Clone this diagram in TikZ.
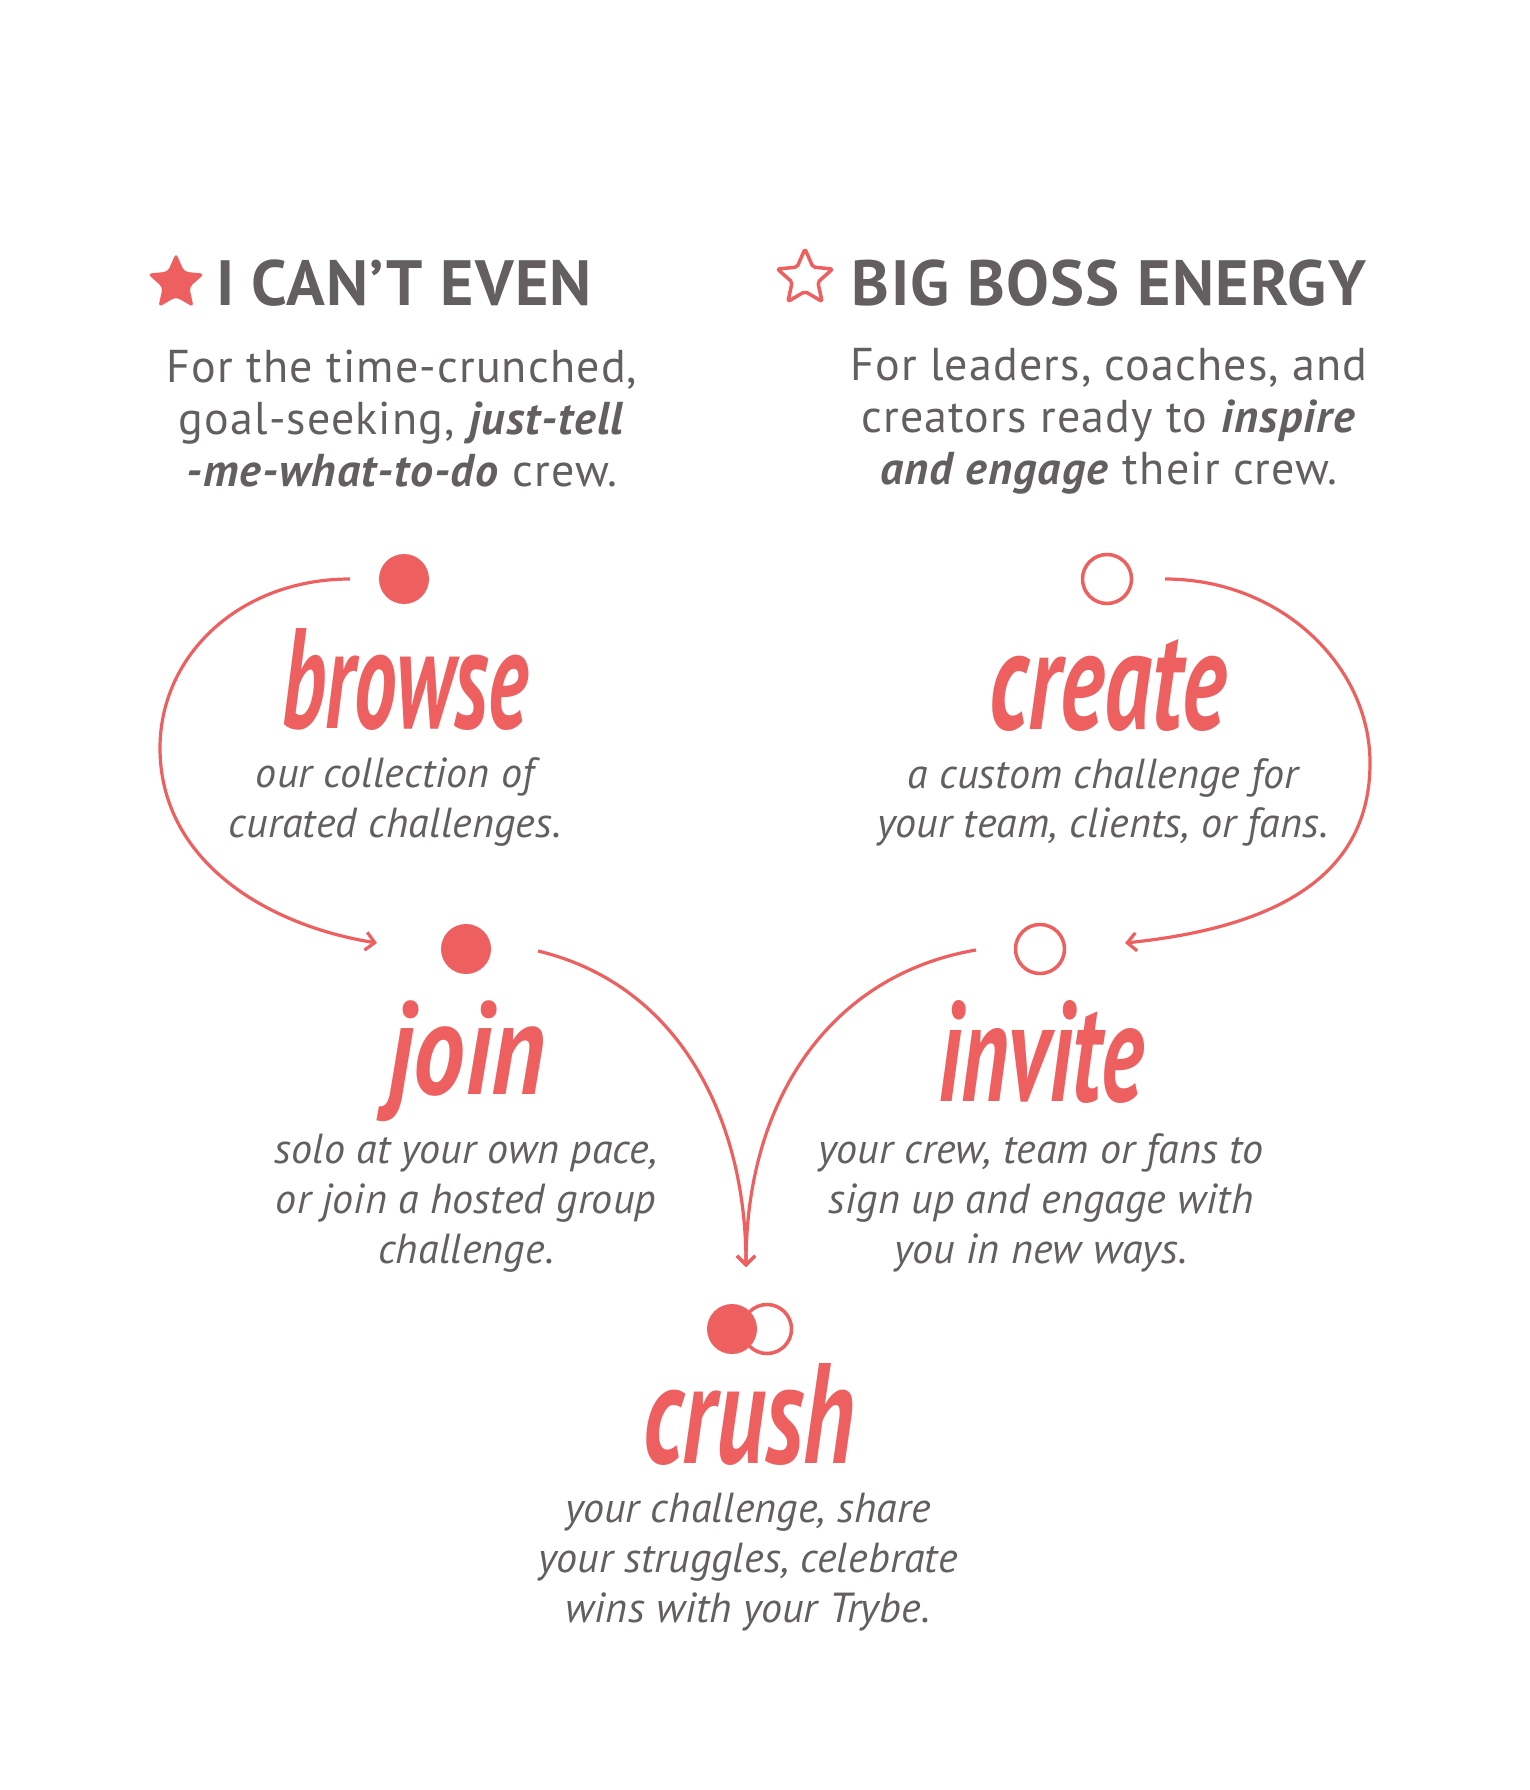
\documentclass[tikz,border=0pt]{standalone}
\usepackage{fontspec}
\setmainfont{PT Sans}
\newfontfamily\headfont{PT Sans}[LetterSpace=2.1]
\newfontfamily\bodyfont{PT Sans}[LetterSpace=2.5]
\newfontfamily\labfont{PT Sans}[LetterSpace=0.5]
\usetikzlibrary{arrows.meta}
\definecolor{coral}{RGB}{238,96,96}
\definecolor{ink}{RGB}{99,94,95}
\newcommand\scriptword[3]{\resizebox*{#1pt}{#2pt}{#3}}
\begin{document}
\begin{tikzpicture}[x=1pt,y=-1pt,
  head/.style={font=\headfont\fontsize{64}{70}\selectfont\bfseries, text=ink, inner sep=0pt, anchor=base},
  body/.style={font=\bodyfont\fontsize{46}{52}\selectfont, text=ink, inner sep=0pt, anchor=base},
  lab/.style={font=\labfont\fontsize{42}{48}\selectfont\itshape, text=ink, inner sep=0pt, anchor=base},
  word/.style={text=coral, inner sep=0pt, anchor=center, font=\fontsize{80}{90}\selectfont\bfseries\itshape},
  dotf/.style={circle, fill=coral, minimum size=50pt, inner sep=0pt},
  doto/.style={circle, draw=coral, line width=3.5pt, fill=white, minimum size=49pt, inner sep=0pt},
  flow/.style={draw=coral, line width=3.2pt, -{Straight Barb[length=9pt,width=18pt]}},
]
\useasboundingbox[fill=white] (0,0) rectangle (1530,1790);

% stars
\fill[coral, rounded corners=4pt, shift={(176,283)}]
  (-90:30) -- (-54:14) -- (-18:30) -- (18:14) -- (54:30) -- (90:14) -- (126:30) -- (162:14) -- (198:30) -- (234:14) -- cycle;
\draw[coral, line width=3.5pt, line join=round, rounded corners=2pt, shift={(805,278)}]
  (-90:29) -- (-54:13.5) -- (-18:29) -- (18:13.5) -- (54:29) -- (90:13.5) -- (126:29) -- (162:13.5) -- (198:29) -- (234:13.5) -- cycle;

% headings
\node[head] (h1) at (404,305) {I CAN’T EVEN};
\node[head] (h2) at (1109,305) {BIG BOSS ENERGY};

% left body
\node[body] (l1) at (402,382) {For the time-crunched,};
\node[body] (l2) at (402,434) {goal-seeking, \textbf{\textit{just-tell}}};
\node[body] (l3) at (402,486) {\textbf{\textit{-me-what-to-do}} crew.};
% right body
\node[body] (r1) at (1109,380) {For leaders, coaches, and};
\node[body] (r2) at (1109,432) {creators ready to \textbf{\textit{inspire}}};
\node[body] (r3) at (1109,484) {\textbf{\textit{and engage}} their crew.};

% dots
\node[dotf] (dbrowse) at (404,579) {};
\node[doto] (dcreate) at (1107,579) {};
\node[dotf] (djoin) at (466,949) {};
\node[doto] (dinvite) at (1040,949) {};
\node[doto] (dcrush2) at (767,1329) {};
\node[dotf] (dcrush1) at (732,1329) {};

% script words
\node[word] (wbrowse) at (405,679) {\scriptword{246}{102}{browse}};
\node[word] (wcreate) at (1108,685) {\scriptword{237}{92}{create}};
\node[word] (wjoin) at (467,1061) {\scriptword{157}{121}{join}};
\node[word] (winvite) at (1041,1052) {\scriptword{206}{103}{invite}};
\node[word] (wcrush) at (749,1414) {\scriptword{212}{102}{crush}};

% labels
\node[lab] (bl1) at (395,787) {our collection of};
\node[lab] (bl2) at (395,837) {curated challenges.};
\node[lab] (cl1) at (1103,788) {a custom challenge for};
\node[lab] (cl2) at (1103,837) {your team, clients, or fans.};
\node[lab] (jl1) at (466,1163) {solo at your own pace,};
\node[lab] (jl2) at (466,1213) {or join a hosted group};
\node[lab] (jl3) at (466,1263) {challenge.};
\node[lab] (il1) at (1041,1163) {your crew, team or fans to};
\node[lab] (il2) at (1041,1213) {sign up and engage with};
\node[lab] (il3) at (1041,1263) {you in new ways.};
\node[lab] (ul1) at (748,1522) {your challenge, share};
\node[lab] (ul2) at (748,1572) {your struggles, celebrate};
\node[lab] (ul3) at (748,1622) {wins with your Trybe.};

% connectors
\coordinate (sbrowse) at (350,579);
\coordinate (ebrowse) at (377,943);
\coordinate (screate) at (1165,579);
\coordinate (ecreate) at (1125,943);
\coordinate (sjoin) at (538,951);
\coordinate (sinvite) at (976,950);
\coordinate (tip) at (746,1267);

\draw[flow] (sbrowse) .. controls (240,579) and (160,655) .. (160,748)
  .. controls (160,860) and (265,925) .. (ebrowse);
\draw[flow] (screate) .. controls (1280,579) and (1370,665) .. (1370,763)
  .. controls (1370,880) and (1270,928) .. (ecreate);
\draw[flow] (sjoin) .. controls (680,985) and (746,1120) .. (tip);
\draw[flow] (sinvite) .. controls (830,975) and (746,1100) .. (tip);
\end{tikzpicture}
\end{document}
